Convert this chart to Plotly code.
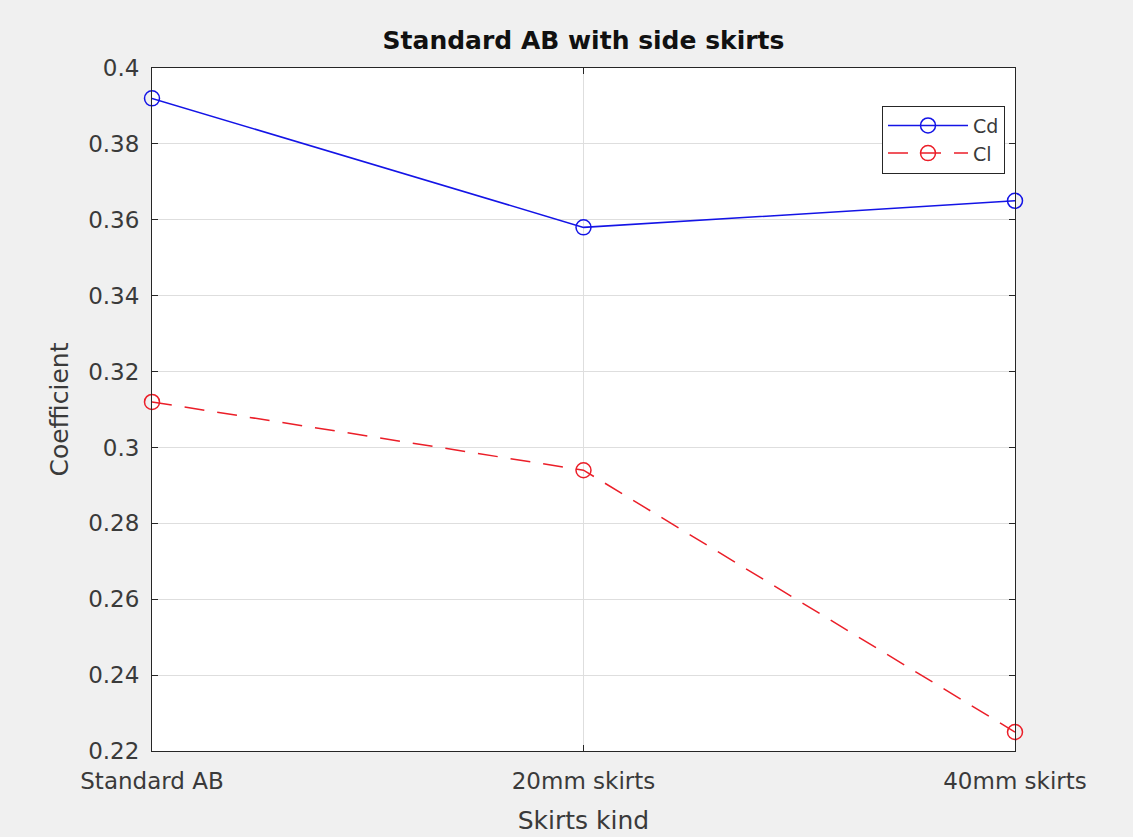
import plotly.graph_objects as go

categories = ["Standard AB", "20mm skirts", "40mm skirts"]
cd_values = [0.392, 0.358, 0.365]
cl_values = [0.312, 0.294, 0.225]
y_ticks = [0.22, 0.24, 0.26, 0.28, 0.30, 0.32, 0.34, 0.36, 0.38, 0.40]
y_ticktext = ["0.22", "0.24", "0.26", "0.28", "0.3", "0.32", "0.34", "0.36", "0.38", "0.4"]

xpos = list(range(len(categories)))
font_family = "DejaVu Sans, Liberation Sans, Arial, sans-serif"
axis_color = "#3a3a3a"

fig = go.Figure()
fig.add_trace(go.Scatter(
    x=xpos, y=cd_values, name="Cd", mode="lines+markers",
    line=dict(color="rgb(20,20,230)", width=1.5),
    marker=dict(symbol="circle-open", size=15, color="rgb(20,20,230)", line=dict(width=1.5)),
    cliponaxis=False,
))
fig.add_trace(go.Scatter(
    x=xpos, y=cl_values, name="Cl", mode="lines+markers",
    line=dict(color="rgb(235,30,40)", width=1.5, dash="20px,13px"),
    marker=dict(symbol="circle-open", size=15, color="rgb(235,30,40)", line=dict(width=1.5)),
    cliponaxis=False,
))

fig.update_layout(
    width=1133, height=837,
    margin=dict(l=152, r=118, t=68, b=86),
    paper_bgcolor="#f0f0f0", plot_bgcolor="white",
    font=dict(family=font_family, color=axis_color, size=23),
    title=dict(text="<b>Standard AB with side skirts</b>", x=0.5, xanchor="center",
               xref="paper",
               y=1 - 40 / 837, yanchor="middle", font=dict(size=25, color="#111111")),
    showlegend=True,
    legend=dict(x=(1005 - 152) / (1133 - 152 - 118), xanchor="right", y=0.945, yanchor="top",
                bgcolor="white", bordercolor="#262626", borderwidth=1,
                font=dict(size=19, color=axis_color), itemwidth=80,
                tracegroupgap=0),
    xaxis=dict(
        range=[0, 2], tickmode="array", tickvals=xpos, ticktext=categories,
        showgrid=True, gridcolor="#dedede", gridwidth=1,
        showline=True, linecolor="#262626", linewidth=1, mirror="ticks",
        ticks="inside", ticklen=6, tickcolor="#262626",
        ticklabelstandoff=9, automargin=False,
        title=dict(text="Skirts kind", font=dict(size=25, color=axis_color), standoff=18),
        zeroline=False,
    ),
    yaxis=dict(
        range=[0.22, 0.40], tickmode="array", tickvals=y_ticks, ticktext=y_ticktext,
        showgrid=True, gridcolor="#dedede", gridwidth=1,
        showline=True, linecolor="#262626", linewidth=1, mirror="ticks",
        ticks="inside", ticklen=6, tickcolor="#262626",
        ticklabelstandoff=7, automargin=False,
        title=dict(text="Coefficient", font=dict(size=25, color=axis_color), standoff=12),
        zeroline=False,
    ),
)

fig.write_html("out.html")
